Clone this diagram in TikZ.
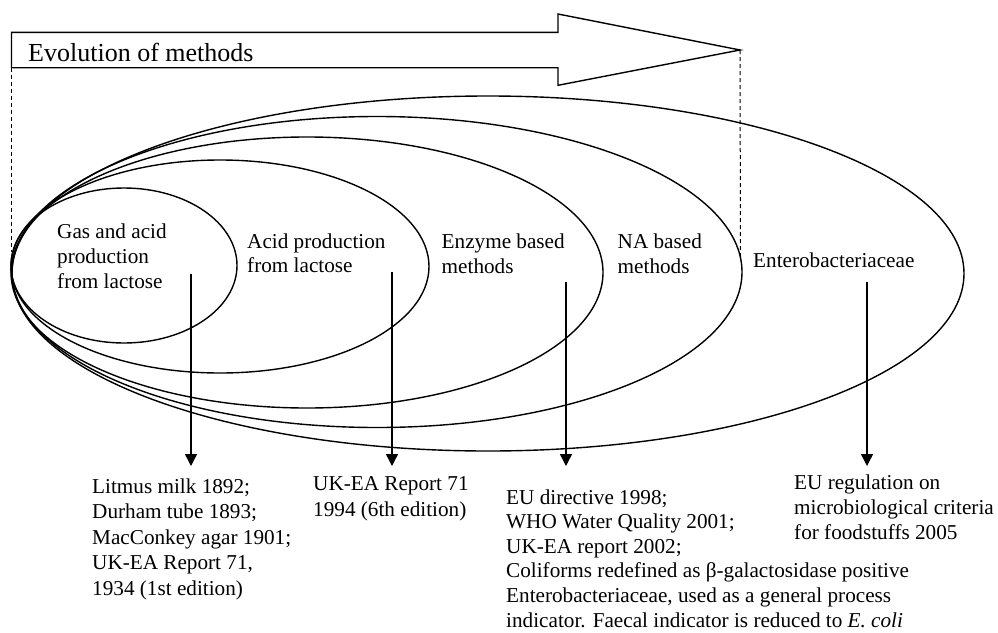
\documentclass[tikz,border=0pt]{standalone}
\usepackage{fontspec}
\setmainfont{Liberation Serif}
\usetikzlibrary{arrows.meta,shapes.geometric}
\newcommand{\lines}[1]{\begin{tabular}[t]{@{}l@{}}#1\end{tabular}}
\begin{document}
\begin{tikzpicture}[x=1pt,y=-1pt,
  oval/.style={draw, ellipse, inner sep=0pt, line width=1.4pt},
  lbl/.style={anchor=base west, inner sep=0pt, font=\fontsize{21.2}{25}\selectfont},
  pointer/.style={line width=1.4pt, -{Triangle[length=12pt,width=12pt]}},
  guide/.style={line width=1pt, dash pattern=on 4pt off 3pt},
  bigarrow/.style={line width=1.4pt, line join=miter},
]
\useasboundingbox (0,0) rectangle (998,632);

% nested ellipses
\node[oval, minimum width=226pt, minimum height=155pt] (gasov) at (124,265.5) {};
\node[oval, minimum width=418pt, minimum height=213pt] (acidov) at (220,266.5) {};
\node[oval, minimum width=592pt, minimum height=271pt] (enzov) at (307,272.5) {};
\node[oval, minimum width=730pt, minimum height=311pt] (naov) at (377,272) {};
\node[oval, minimum width=952pt, minimum height=355pt] (entov) at (488,273.5) {};

% big arrow
\coordinate (shafttl) at (11.5,32.3);
\coordinate (shaftbl) at (11.5,67.7);
\coordinate (tip) at (740,50);
\draw[bigarrow] (shafttl) -- (558,32.3) -- (558,14) -- (tip) -- (558,85.3) -- (558,67.7) -- (shaftbl) -- cycle;
\node[lbl, font=\fontsize{26}{30}\selectfont] (title) at (28,61) {Evolution of methods};

% dashed guides
\coordinate (dl) at (11.5,252);
\coordinate (dr) at (740.5,260);
\draw[guide] (shaftbl) -- (dl);
\draw[guide] (tip) -- (dr);

% labels inside ellipses
\node[lbl] (gas) at (57,238) {\lines{Gas and acid\\production\\from lactose}};
\node[lbl, font=\fontsize{21.2}{24}\selectfont] (acid) at (247,248) {\lines{Acid production\\from lactose}};
\node[lbl] (enz) at (441.5,248.3) {\lines{Enzyme based\\methods}};
\node[lbl] (na) at (617.5,248.3) {\lines{NA based\\methods}};
\node[lbl] (ent) at (753,267) {Enterobacteriaceae};

% bottom labels
\node[lbl, font=\fontsize{21.2}{25.5}\selectfont] (lit) at (92,493)
  {\lines{Litmus milk 1892;\\Durham tube 1893;\\MacConkey agar 1901;\\UK-EA Report 71,\\1934 (1st edition)}};
\node[lbl, font=\fontsize{21.2}{26}\selectfont] (uk) at (313,490.5)
  {\lines{UK-EA Report 71\\1994 (6th edition)}};
\node[lbl, font=\fontsize{21.2}{24.6}\selectfont] (eu) at (506,504)
  {\lines{EU directive 1998;\\WHO Water Quality 2001;\\UK-EA report 2002;\\Coliforms redefined as β-galactosidase positive\\Enterobacteriaceae, used as a general process\\indicator. Faecal indicator is reduced to \textit{E. coli}}};
\node[lbl] (reg) at (794,489.5)
  {\lines{EU regulation on\\microbiological criteria\\for foodstuffs 2005}};

% pointers
\coordinate (a1s) at (191,274); \coordinate (a1e) at (191,466);
\coordinate (a2s) at (392,272); \coordinate (a2e) at (392,466);
\coordinate (a3s) at (566,282); \coordinate (a3e) at (566,466);
\coordinate (a4s) at (867,282); \coordinate (a4e) at (867,466);
\draw[pointer] (a1s) -- (a1e);
\draw[pointer] (a2s) -- (a2e);
\draw[pointer] (a3s) -- (a3e);
\draw[pointer] (a4s) -- (a4e);
\end{tikzpicture}
\end{document}
